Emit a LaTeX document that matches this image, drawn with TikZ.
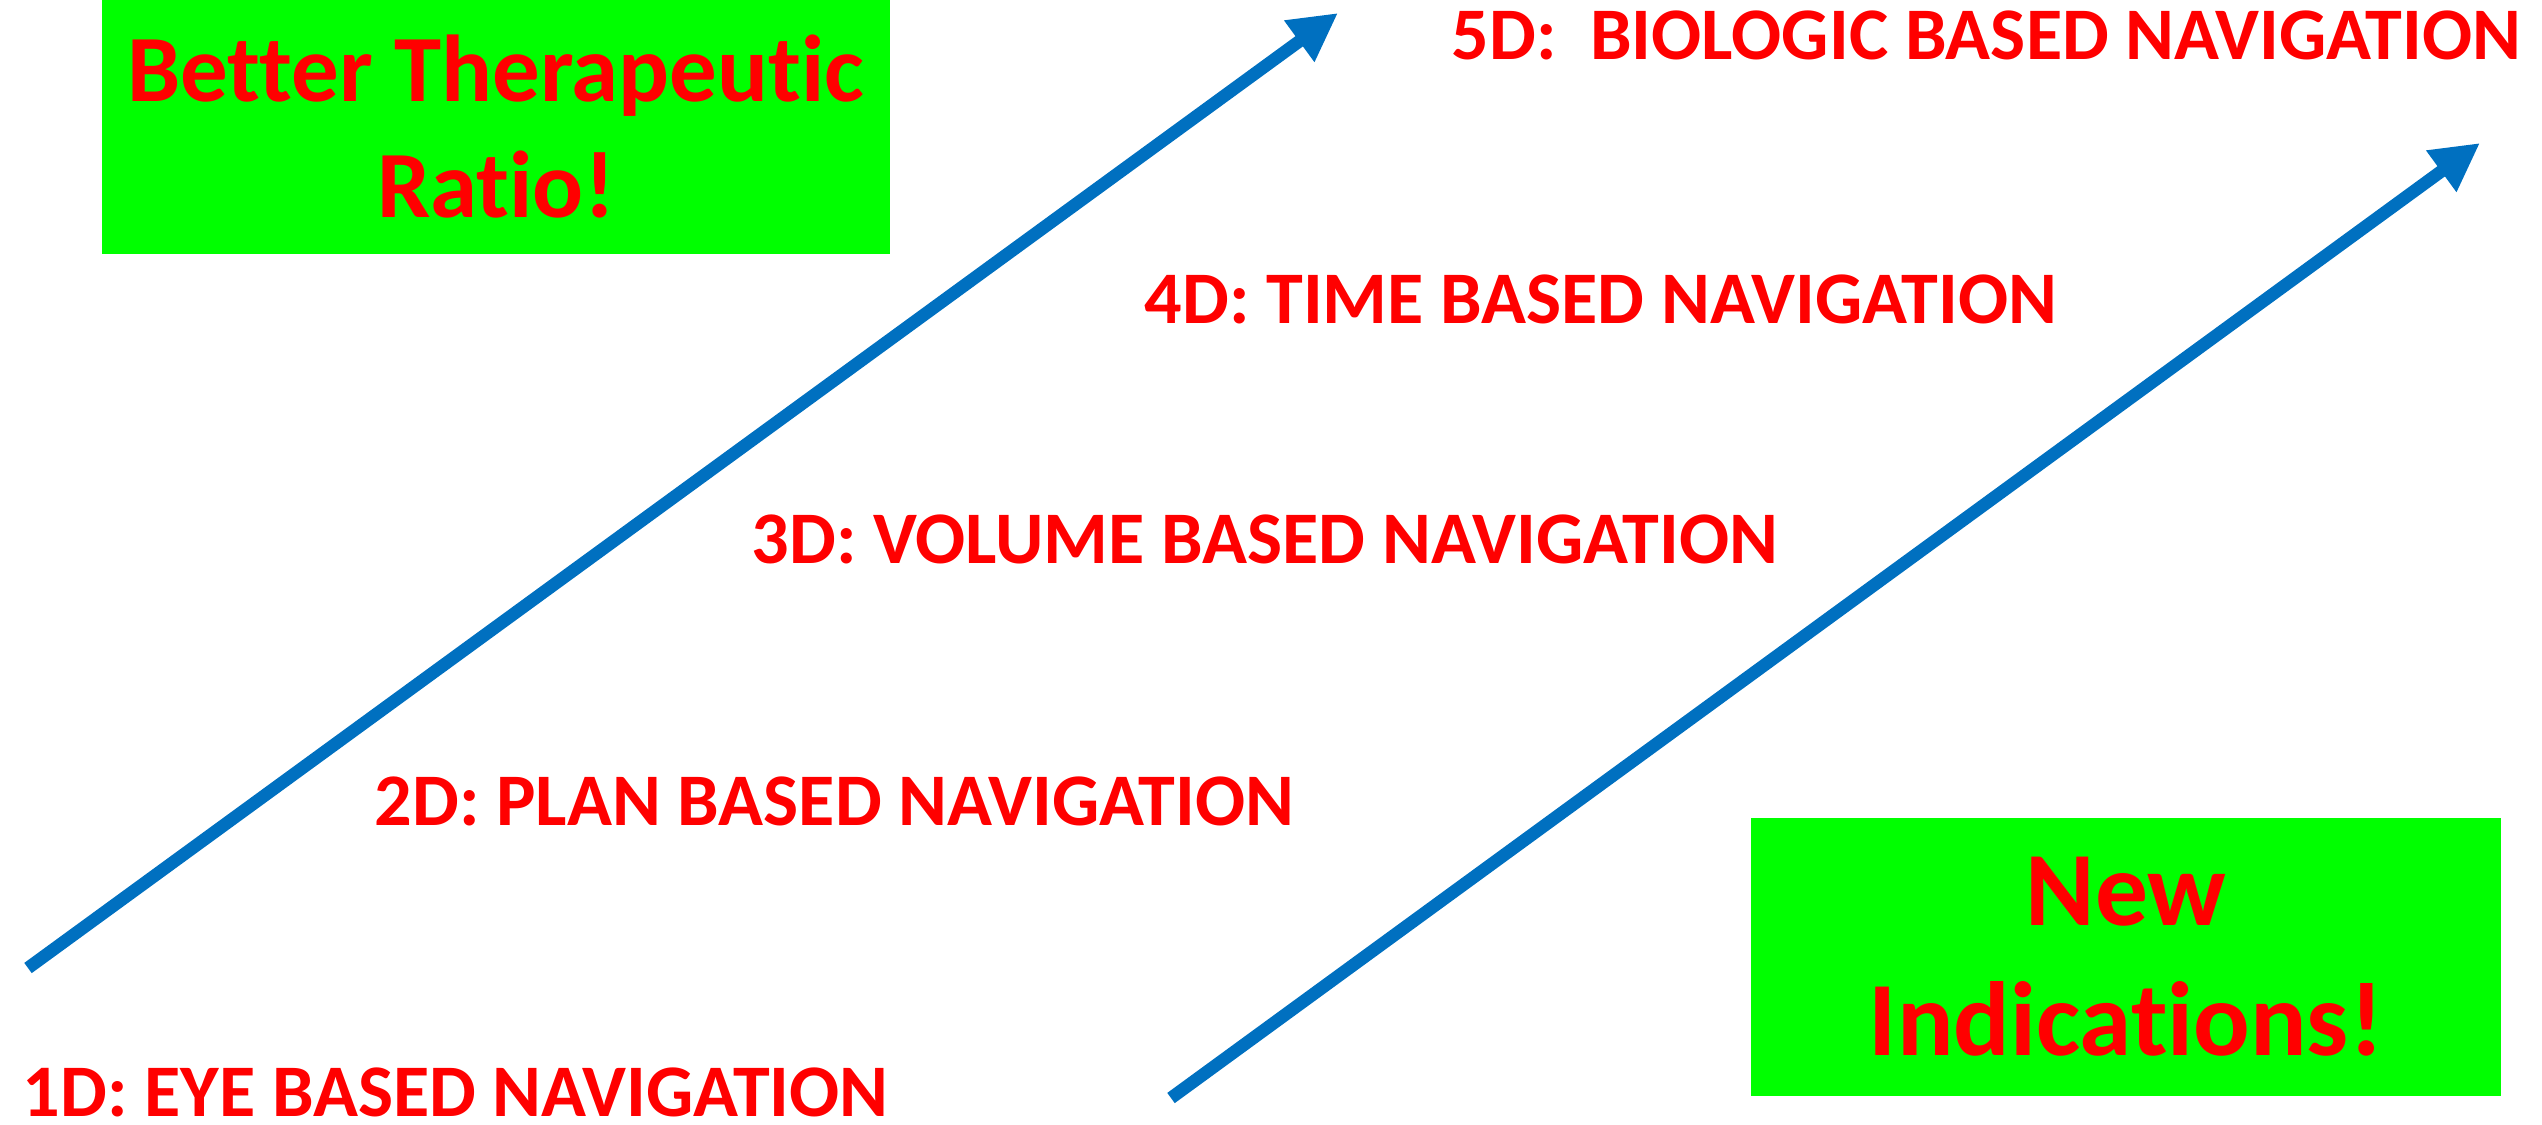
\documentclass[tikz,border=0pt]{standalone}
\usepackage{fontspec}
\setmainfont{Carlito}[RawFeature={-liga,-clig,-dlig}]
\usepackage{tikz}
\usetikzlibrary{arrows.meta,positioning}
\definecolor{navblue}{HTML}{0070C0}
\definecolor{boxgreen}{HTML}{00FF00}
\definecolor{textred}{HTML}{FF0000}

\begin{document}
\begin{tikzpicture}[
    x=0.01cm, y=-0.01cm,
    >=Stealth,
    navlabel/.style={font=\fontsize{21.1}{25}\selectfont\bfseries, text=textred, inner sep=0pt, anchor=base west},
    goalbox/.style={fill=boxgreen, inner sep=0pt, align=center, text=textred},
    flow/.style={draw=navblue, line width=3.6pt, -{Triangle[length=0.48cm, width=0.48cm]}},
  ]
  \useasboundingbox (0,0) rectangle (2542,1124);

  % ========= GOAL BOXES =========
  \node[goalbox, minimum width=7.87cm, minimum height=2.53cm,
        font=\fontsize{27}{33}\selectfont\bfseries] (ratio) at (496,127)
        {Better Therapeutic\\Ratio!};
  \node[goalbox, minimum width=7.49cm, minimum height=2.77cm,
        font=\fontsize{30}{37}\selectfont\bfseries] (indic) at (2126,957)
        {New\\Indications!};

  % ========= ARROWS =========
  \coordinate (tailA) at (28,968);
  \coordinate (tipA) at (1338,13);
  \coordinate (tailB) at (1171,1098);
  \coordinate (tipB) at (2480,143);
  \draw[flow] (tailA) -- (tipA);
  \draw[flow] (tailB) -- (tipB);

  % ========= LEVELS =========
  \node[navlabel] (eye) at (22,1116) {1D: EYE BASED NAVIGATION};
  \node[navlabel] (plan) at (374,825) {2D: PLAN BASED NAVIGATION};
  \node[navlabel] (volume) at (751,563) {3D: VOLUME BASED NAVIGATION};
  \node[navlabel] (time) at (1144,323) {4D: TIME BASED NAVIGATION};
  \node[navlabel] (bio) at (1451,59) {5D:\ \ BIOLOGIC BASED NAVIGATION};
\end{tikzpicture}
\end{document}
